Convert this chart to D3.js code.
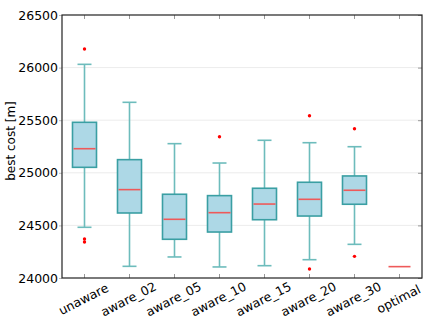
<!DOCTYPE html>
<html>
<head>
<meta charset="utf-8">
<script src="https://cdn.jsdelivr.net/npm/d3@7"></script>
<style>
  body { margin: 0; background: #fff; }
  text { font-family: "DejaVu Sans", sans-serif; }
</style>
</head>
<body>
<svg id="chart"></svg>
<script>
// values
var categories = ["unaware","aware_02","aware_05","aware_10","aware_15","aware_20","aware_30","optimal"];
var whiskerLow  = [24482, 24111, 24200, 24105, 24117, 24174, 24320, 24108];
var q1          = [25052, 24618, 24368, 24437, 24554, 24589, 24701, 24108];
var medians     = [25229, 24840, 24558, 24621, 24703, 24748, 24834, 24108];
var q3          = [25480, 25125, 24796, 24783, 24853, 24910, 24970, 24108];
var whiskerHigh = [26031, 25670, 25277, 25093, 25309, 25286, 25248, 24108];
var outliers    = [[26177, 24371, 24342], [], [], [25343], [], [25543, 24086], [25419, 24206], []];
var yTicks = [24000, 24500, 25000, 25500, 26000, 26500];

var width = 432, height = 324;
var pLeft = 62, pTop = 15, pRight = 422, pBottom = 278;

var svg = d3.select("#chart")
  .attr("width", width)
  .attr("height", height);

var x = d3.scaleBand().domain(categories).range([pLeft, pRight]);
var y = d3.scaleLinear().domain([24000, 26500]).range([pBottom, pTop]);

var rows = categories.map(function(c, i){
  return {cat: c, lo: whiskerLow[i], q1: q1[i], med: medians[i], q3: q3[i], hi: whiskerHigh[i], out: outliers[i]};
});

// grid
svg.selectAll("line.grid")
   .data(yTicks.slice(1, -1))
   .enter()
   .append("line")
   .attr("x1", pLeft).attr("x2", pRight)
   .attr("y1", function(d){return y(d);})
   .attr("y2", function(d){return y(d);})
   .attr("stroke", "#ececec")
   .attr("stroke-width", 1);

// axes (ticks only, the frame is drawn below)
var yAxis = svg.append("g")
   .attr("transform", "translate(" + pLeft + ",0)")
   .call(d3.axisLeft(y).tickValues(yTicks).tickFormat(d3.format("d")).tickSize(3).tickPadding(1));
yAxis.select(".domain").remove();
yAxis.selectAll("line").attr("stroke", "#bbb");
yAxis.selectAll("text").attr("font-size", "12.5px").attr("fill", "#000");

var yRight = svg.append("g")
   .attr("transform", "translate(" + pRight + ",0)")
   .call(d3.axisLeft(y).tickValues(yTicks).tickSize(4).tickFormat(""));
yRight.select(".domain").remove();
yRight.selectAll("line").attr("stroke", "#999");

var xTop = svg.append("g")
   .attr("transform", "translate(0," + pTop + ")")
   .call(d3.axisBottom(x).tickSize(4).tickFormat(""));
xTop.select(".domain").remove();
xTop.selectAll("line").attr("stroke", "#999");

var xAxis = svg.append("g")
   .attr("transform", "translate(0," + pBottom + ")")
   .call(d3.axisTop(x).tickSize(4).tickFormat(""));
xAxis.select(".domain").remove();
xAxis.selectAll("line").attr("stroke", "#999");

// x labels, rotated
svg.selectAll("text.xlab")
   .data(categories)
   .enter()
   .append("text")
   .attr("class", "xlab")
   .text(function(d){return d;})
   .attr("font-size", "12.5px")
   .attr("text-anchor", "middle")
   .attr("transform", function(d){
      return "translate(" + (x(d) + x.bandwidth()/2 + 1) + "," + (pBottom + 25) + ") rotate(-27)";
   });

// y label
svg.append("text")
   .text("best cost [m]")
   .attr("font-size", "12px")
   .attr("text-anchor", "middle")
   .attr("transform", "translate(15,141) rotate(-90)");

var boxW = 24, capW = 14;
var g = svg.selectAll("g.box")
   .data(rows)
   .enter()
   .append("g")
   .attr("transform", function(d){return "translate(" + (x(d.cat) + x.bandwidth()/2) + ",0)";});

// whiskers and boxes
g.filter(function(d){return d.hi > d.lo;}).each(function(d){
  var s = d3.select(this);
  s.append("line").attr("x1", 0).attr("x2", 0).attr("y1", y(d.q3)).attr("y2", y(d.hi))
   .attr("stroke", "#6dbcbc").attr("stroke-width", 1.6);
  s.append("line").attr("x1", 0).attr("x2", 0).attr("y1", y(d.q1)).attr("y2", y(d.lo))
   .attr("stroke", "#6dbcbc").attr("stroke-width", 1.6);
  s.append("line").attr("x1", -capW/2).attr("x2", capW/2).attr("y1", y(d.hi)).attr("y2", y(d.hi))
   .attr("stroke", "#6dbcbc").attr("stroke-width", 1.6);
  s.append("line").attr("x1", -capW/2).attr("x2", capW/2).attr("y1", y(d.lo)).attr("y2", y(d.lo))
   .attr("stroke", "#6dbcbc").attr("stroke-width", 1.6);
  s.append("rect")
   .attr("x", -boxW/2).attr("width", boxW)
   .attr("y", y(d.q3)).attr("height", y(d.q1) - y(d.q3))
   .attr("fill", "#add8e6")
   .attr("stroke", "#3a9fa3").attr("stroke-width", 1.6);
});

// medians
g.append("line")
 .attr("x1", -boxW/2 + 1).attr("x2", boxW/2 - 1)
 .attr("y1", function(d){return y(d.med);})
 .attr("y2", function(d){return y(d.med);})
 .attr("stroke", "#ee5a5a").attr("stroke-width", 1.6);

// outliers
g.selectAll("circle")
 .data(function(d){return d.out;})
 .enter()
 .append("circle")
 .attr("cx", 0)
 .attr("cy", function(v){return y(v);})
 .attr("r", 1.7)
 .attr("fill", "red");

// frame
svg.append("rect")
   .attr("x", pLeft).attr("y", pTop)
   .attr("width", pRight - pLeft).attr("height", pBottom - pTop)
   .attr("fill", "none").attr("stroke", "#222").attr("stroke-width", 1.2);
</script>
</body>
</html>
